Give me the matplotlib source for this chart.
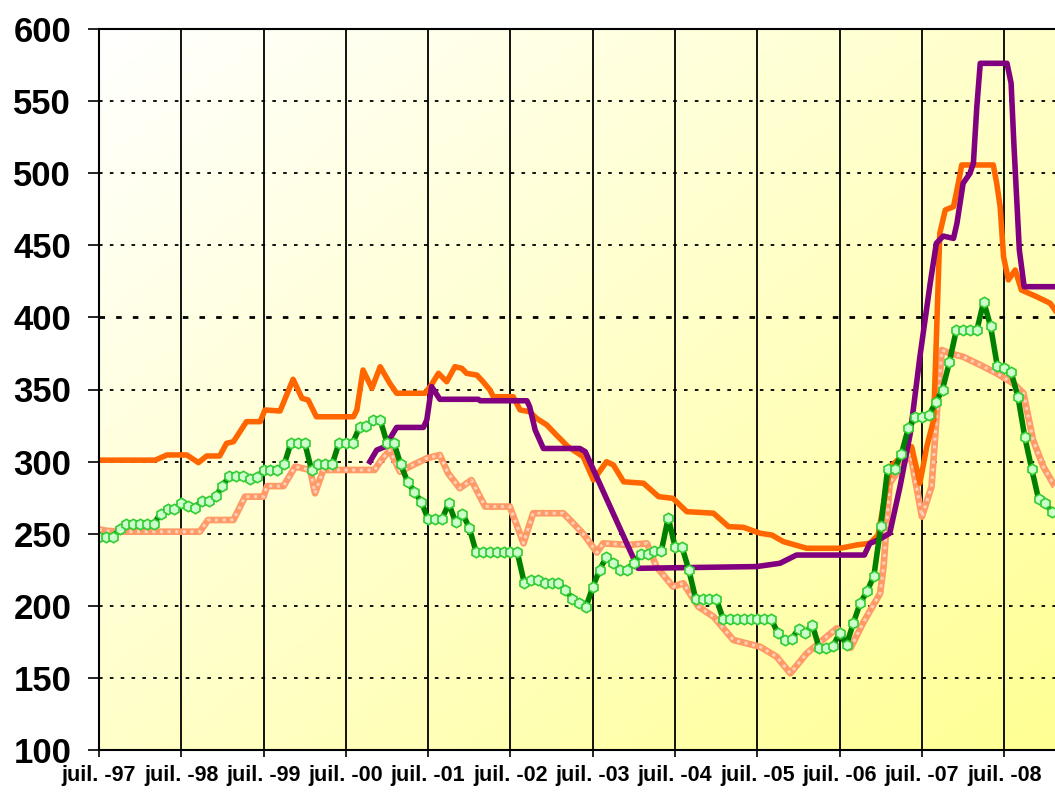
import numpy as np
import matplotlib.pyplot as plt

plt.rcParams['font.family'] = ['Liberation Sans', 'DejaVu Sans']

# months counted from juil.-97
x_labels = ['juil. -97', 'juil. -98', 'juil. -99', 'juil. -00', 'juil. -01', 'juil. -02',
            'juil. -03', 'juil. -04', 'juil. -05', 'juil. -06', 'juil. -07', 'juil. -08']
y_ticks = [100, 150, 200, 250, 300, 350, 400, 450, 500, 550, 600]

# green series, one value per month (with markers)
green_values = [248, 248, 248, 253, 257, 257, 257, 257, 257, 264,
                267, 267, 271, 269, 268, 273, 273, 276, 283, 290,
                290, 290, 288, 289, 294, 294, 294, 298, 313, 313,
                313, 294, 298, 298, 298, 313, 313, 313, 324, 325,
                329, 329, 313, 313, 298, 286, 279, 272, 260, 260,
                260, 271, 258, 264, 254, 237, 237, 237, 237, 237,
                237, 237, 216, 218, 218, 216, 216, 216, 211, 205,
                202, 199, 213, 225, 234, 230, 225, 225, 230, 236,
                236, 238, 238, 261, 241, 241, 225, 205, 205, 205,
                205, 191, 191, 191, 191, 191, 191, 191, 191, 181,
                176, 177, 184, 181, 187, 171, 171, 172, 181, 173,
                188, 202, 210, 221, 255, 295, 295, 305, 323, 331,
                331, 332, 341, 350, 369, 391, 391, 391, 391, 411,
                394, 366, 365, 362, 345, 317, 295, 274, 271, 265]

# orange solid series
orange_months = [0, 8.2, 9.9, 12.8, 14.5, 15.7, 17.6, 18.6, 19.6, 21.5, 23.5, 24.2,
                 26.4, 28.3, 29.6, 30.5, 31.7, 37.1, 37.6, 38.5, 39.8, 41, 42.4, 43.4,
                 47.5, 48.3, 49.5, 50.7, 51.9, 52.9, 53.6, 55.1, 56, 57, 57.5, 60.4,
                 61.4, 62.8, 63.8, 65.3, 66.7, 68.4, 70.6, 72.1, 72.8, 74, 75, 76.5,
                 79.4, 81.6, 83.7, 85.7, 89.6, 91.8, 94, 96.4, 98.1, 99.8, 103.2, 108.1,
                 110.5, 112.4, 113.6, 114.6, 115.4, 116, 118.5, 119.7, 120.7, 121.7, 122.1, 122.6,
                 123.4, 124.6, 125.3, 125.8, 130.4, 130.9, 131.4, 131.9, 132.6, 133.6, 134.5, 136.7,
                 138.7, 139.4]
orange_values = [301, 301, 304.6, 304.6, 299.3, 303.9, 303.9, 312.7, 313.8, 327.7, 327.7, 335.8,
                 335.1, 357.1, 343.9, 342.7, 331.1, 331.1, 335.8, 363.5, 350.8, 365.8, 354.3, 347.4,
                 347.4, 352, 361.2, 355.4, 365.8, 364.7, 361.2, 360, 355.4, 349.7, 345, 345,
                 335.8, 334.6, 330, 325.4, 318.4, 310.3, 303.4, 287.2, 291.9, 299.9, 297.7, 286,
                 285, 275.7, 274.5, 265.3, 264.2, 254.9, 254.4, 250.3, 249.1, 244.5, 239.9, 239.9,
                 242.2, 243.3, 249, 275.7, 296.5, 299, 310.3, 285, 310.3, 328.9, 385, 458.3,
                 474.5, 476.8, 493, 505.7, 505.7, 493, 476.8, 442, 426, 432.9, 419, 414.4,
                 409.8, 405.1]

# light orange (hatched) series
salmon_months = [0, 1.1, 3.5, 14.7, 15.9, 19.6, 21.3, 24, 24.5, 26.9, 28.6, 30.8,
                 31.5, 32.7, 40.2, 41, 42.4, 43.9, 45.8, 47.8, 49.7, 50.9, 52.6, 54.3,
                 56.3, 59.9, 61.9, 63.3, 67.7, 69, 70.6, 72.6, 73.5, 77.2, 79.9, 81.3,
                 83.7, 85.2, 87.4, 89.6, 92.5, 96.4, 98.8, 100.8, 103.2, 106.1, 107.6, 109.6,
                 111.4, 113.9, 114.4, 115.3, 116.3, 118.3, 120, 121.4, 122.1, 122.9, 124.1, 126,
                 128.5, 130.9, 133.3, 134.8, 136.2, 137.7, 139.4]
salmon_values = [253, 252, 251.4, 251.4, 259.5, 259.5, 275.7, 275.7, 283, 283, 296.5, 294.2,
                 278, 294.2, 294.2, 300, 308, 293, 297.7, 302.3, 304.6, 291.9, 281.5, 287.2,
                 268.8, 268.8, 243.3, 264.2, 264.2, 258, 250, 237, 243.3, 242.2, 243.3, 227,
                 213.3, 215.6, 199.4, 192.5, 176.3, 171.6, 164.7, 153.2, 167, 178.6, 184.4, 170.8,
                 188, 208.7, 227, 285, 292, 305.7, 261.8, 282.6, 328.9, 377.4, 375, 372.7,
                 367, 361.2, 354.3, 347.4, 315, 296.5, 282.6]

# purple series
purple_months = [39.5, 40.5, 41.7, 43.4, 47.3, 47.8, 48.5, 49.7, 55.3, 55.6, 62.4, 62.8,
                 63.6, 64.8, 70.1, 70.9, 78.6, 95.9, 99.3, 101.7, 111.6, 112.4, 113.6, 115.3,
                 116.8, 118.3, 119.7, 121.2, 122.1, 123.1, 124.6, 125.1, 126, 127, 127.5, 128,
                 128.5, 132.4, 133, 133.4, 134.2, 134.9, 139.4]
purple_values = [300, 308, 310.3, 323.7, 323.7, 328.9, 352, 343.2, 343.2, 342.2, 342.2, 338,
                 321.9, 309.1, 309.1, 306.9, 226, 227.2, 229.5, 235.2, 235.2, 243.3, 245.6, 250.3,
                 282.6, 319.6, 372.7, 423.6, 451.4, 456.4, 454.8, 465.2, 493, 499.9, 506.9, 546.1,
                 576.2, 576.2, 562.4, 520.7, 446.7, 421.3, 421.3]

fig = plt.figure(figsize=(10.55, 7.96), dpi=100)
ax = fig.add_axes([99 / 1055, 46 / 796, 956 / 1055, 721 / 796])

# diagonal white -> yellow background
h, w = 200, 200
cols = np.linspace(0, 1, w)[None, :]
rows = np.linspace(0, 1, h)[:, None]
t = (cols + rows) / 2
bg = np.ones((h, w, 3))
bg[:, :, 2] = 1 - 0.42 * t
ax.imshow(bg, extent=[0, 1, 0, 1], transform=ax.transAxes, aspect='auto', zorder=0)

# grid
for v in y_ticks[1:-1]:
    ax.axhline(v, color='black', lw=2.0 if v == 400 else 1.3,
               linestyle=(0, (2, 4)), zorder=1)
for k in range(1, len(x_labels)):
    ax.axvline(12 * k, color='black', lw=1.3, zorder=1)

months = np.arange(len(green_values))

ax.plot(salmon_months, salmon_values, color='#FF9966', lw=4.8, zorder=2,
        solid_capstyle='butt')
ax.plot(salmon_months, salmon_values, color='white', lw=2.2, alpha=0.55,
        linestyle=(0, (1, 1.5)), zorder=2)
ax.plot(orange_months, orange_values, color='#FF6600', lw=4, zorder=3)
ax.plot(purple_months, purple_values, color='#800080', lw=4, zorder=4)
ax.plot(months, green_values, color='#008000', lw=4, marker='h', markersize=7.5,
        markerfacecolor='#CCFFCC', markeredgecolor='#33CC33', markeredgewidth=1.2, zorder=5)

ax.set_xlim(0, 139.4)
ax.set_ylim(100, 600)
ax.set_yticks(y_ticks)
ax.set_yticklabels([str(v) for v in y_ticks], fontsize=25, fontweight='bold')
ax.set_xticks([12 * k for k in range(len(x_labels))])
ax.set_xticklabels(x_labels, fontsize=15.5, fontweight='bold')
ax.tick_params(axis='y', direction='out', length=8, width=1.2, pad=12)
ax.tick_params(axis='x', direction='out', length=5, width=1.2, pad=6)

for side in ['left', 'bottom', 'top']:
    ax.spines[side].set_linewidth(1.5)
    ax.spines[side].set_zorder(6)
ax.spines['right'].set_visible(False)

fig.savefig('out.png', dpi=100)
